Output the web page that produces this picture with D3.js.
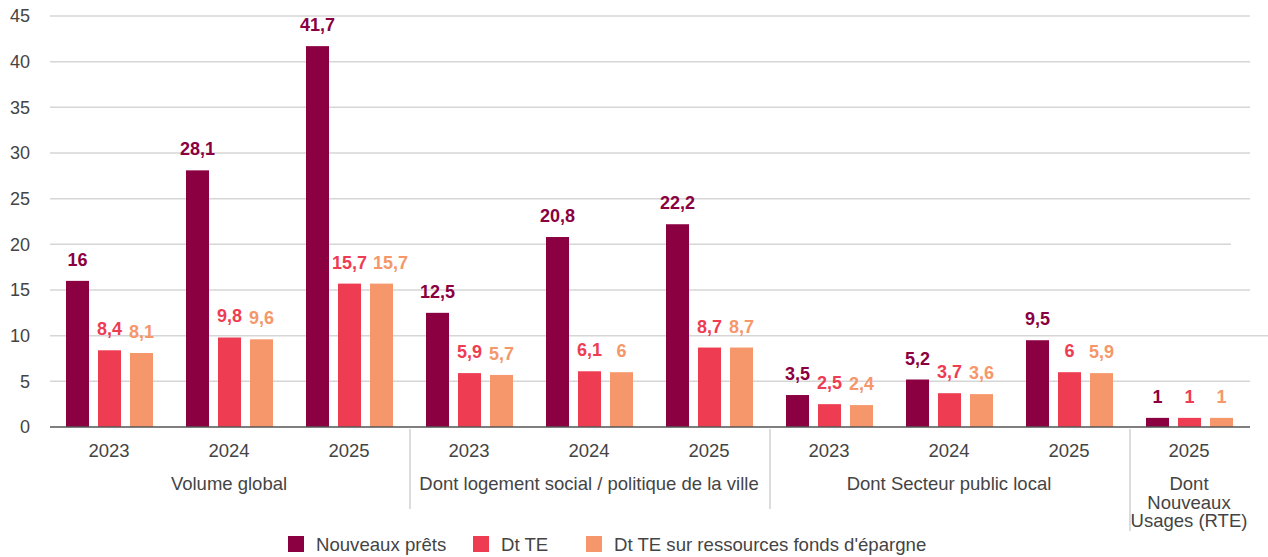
<!DOCTYPE html>
<html><head><meta charset="utf-8">
<script src="https://cdn.jsdelivr.net/npm/d3@7"></script>
<style>body{margin:0;background:#fff}svg{display:block;font-family:"Liberation Sans",Arial,sans-serif}</style>
</head><body><svg id="c" width="1268" height="557"></svg>
<script>
const years = ["2023","2024","2025","2023","2024","2025","2023","2024","2025","2025"];
const groups = [
  {label:["Volume global"], from:0, to:2},
  {label:["Dont logement social / politique de la ville"], from:3, to:5},
  {label:["Dont Secteur public local"], from:6, to:8},
  {label:["Dont","Nouveaux","Usages (RTE)"], from:9, to:9}
];
const seriesNames = ["Nouveaux prêts","Dt TE","Dt TE sur ressources fonds d'épargne"];
const nouveauxPrets = [16,28.1,41.7,12.5,20.8,22.2,3.5,5.2,9.5,1];
const dtTE = [8.4,9.8,15.7,5.9,6.1,8.7,2.5,3.7,6,1];
const dtTEEpargne = [8.1,9.6,15.7,5.7,6,8.7,2.4,3.6,5.9,1];
const yTicks = [0,5,10,15,20,25,30,35,40,45];

const colors = ["#8B0040","#EE3D52","#F5976A"];
const series = [nouveauxPrets, dtTE, dtTEEpargne];

const svg = d3.select("#c");
const mLeft = 49, mRight = 1249, mTop = 16, mBottom = 427;
const idx = d3.range(years.length);
const x = d3.scaleBand().domain(idx).range([mLeft,mRight]).padding(0);
const y = d3.scaleLinear().domain([0,45]).range([mBottom,mTop]);
const sub = d3.scaleBand().domain([0,1,2]).range([-47.5,48.5]).paddingInner(0.281).paddingOuter(0.1406);
const fmt = v => String(v).replace(".",",");

// gridlines
const gridEnd = {20:1231, 10:1268};
svg.append("g").selectAll("line").data(yTicks.filter(t=>t>0)).join("line")
  .attr("x1",mLeft+1).attr("x2",t=>gridEnd[t]||1250)
  .attr("y1",t=>y(t)).attr("y2",t=>y(t))
  .attr("stroke","#d6d6d6").attr("stroke-width",1.5);

// y axis labels
const yAxis = svg.append("g").attr("transform",`translate(30,0)`)
  .call(d3.axisLeft(y).tickValues(yTicks).tickSize(0).tickPadding(0));
yAxis.select(".domain").remove();
yAxis.selectAll("text").attr("font-size",18).attr("fill","#444").attr("font-family","Liberation Sans, Arial, sans-serif");

// bars + value labels
const labelSel = [];
series.forEach((vals,si)=>{
  const g = svg.append("g");
  g.selectAll("rect").data(vals).join("rect")
    .attr("x",(d,i)=>x(i)+x.bandwidth()/2+sub(si))
    .attr("width",sub.bandwidth())
    .attr("y",d=>y(d)).attr("height",d=>y(0)-y(d))
    .attr("fill",colors[si]);
  labelSel.push(g.selectAll("text").data(vals).join("text")
    .attr("x",(d,i)=>x(i)+x.bandwidth()/2+sub(si)+sub.bandwidth()/2)
    .attr("y",d=>y(d)-15)
    .attr("text-anchor","middle").attr("font-size",18).attr("font-weight","bold")
    .attr("fill",colors[si]).text(fmt));
});
// avoid overlapping neighbouring labels (shift to the right)
idx.forEach(i=>{
  for(let si=1; si<3; si++){
    const prev = labelSel[si-1].nodes()[i], cur = labelSel[si].nodes()[i];
    const a = prev.getBBox(), b = cur.getBBox();
    const vOverlap = !(a.y+a.height < b.y || b.y+b.height < a.y);
    if(vOverlap && b.x < a.x + a.width + 6){
      const dx = a.x + a.width + 6 - b.x;
      cur.setAttribute("x", +cur.getAttribute("x") + dx);
    }
  }
});

// baseline
svg.append("line").attr("x1",mLeft+1).attr("x2",1250).attr("y1",y(0)).attr("y2",y(0))
  .attr("stroke","#555").attr("stroke-width",1.5);

// x axis year labels
const xAxis = svg.append("g").attr("transform",`translate(0,${y(0)})`)
  .call(d3.axisBottom(x).tickFormat(i=>years[i]).tickSize(0).tickPadding(17));
xAxis.select(".domain").remove();
xAxis.selectAll("text").attr("font-size",18.5).attr("fill","#444").attr("font-family","Liberation Sans, Arial, sans-serif");

// separators
svg.append("g").selectAll("line").data(groups.slice(1)).join("line")
  .attr("x1",g=>x(g.from)+1).attr("x2",g=>x(g.from)+1)
  .attr("y1",y(0)+2).attr("y2",g=>g.label.length>1?531:509)
  .attr("stroke","#d0d0d0").attr("stroke-width",1.5);

// group labels
const gl = svg.append("g");
groups.forEach(g=>{
  const cx = (x(g.from)+x(g.to)+x.bandwidth())/2;
  const t = gl.append("text").attr("x",cx).attr("y",490).attr("text-anchor","middle")
    .attr("font-size",18.5).attr("fill","#444");
  g.label.forEach((l,k)=>t.append("tspan").attr("x",cx).attr("dy",k?18.5:0).text(l));
});

// legend
const legX = [288,473,586];
const lg = svg.append("g");
seriesNames.forEach((n,i)=>{
  lg.append("rect").attr("x",legX[i]).attr("y",536).attr("width",16).attr("height",16).attr("fill",colors[i]);
  lg.append("text").attr("x",legX[i]+28).attr("y",550.5).attr("font-size",18.6).attr("fill","#444").text(n);
});
</script></body></html>
